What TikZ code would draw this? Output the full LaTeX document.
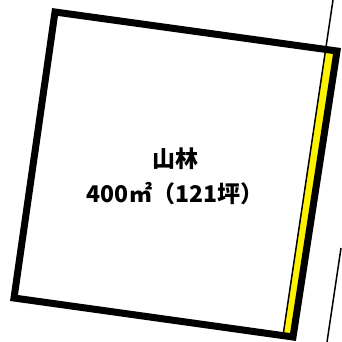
\documentclass[tikz,border=0pt]{standalone}
\usepackage{fontspec}
\newfontfamily\jpfont{Noto Sans CJK JP}
\tikzstyle{lot}=[line width=7pt, line join=miter]
\tikzstyle{edge}=[line width=1.5pt]
\tikzstyle{label}=[font=\jpfont\bfseries\fontsize{23}{35}\selectfont, align=center, inner sep=0pt]
\begin{document}
\begin{tikzpicture}[x=1pt,y=-1pt]
    \useasboundingbox (0,0) rectangle (341,342);
    % corners of the lot
    \coordinate (tl) at (55,12);
    \coordinate (tr) at (337,51);
    \coordinate (br) at (293,337);
    \coordinate (bl) at (14,298);
    % road side strip
    \coordinate (st) at (325.6,49.6);
    \coordinate (sb) at (283,335.6);
    \fill[yellow] (st) -- (tr) -- (br) -- (sb) -- cycle;
    \coordinate (ea) at (333,0);
    \coordinate (eb) at (341,248);
    \coordinate (ec) at (327,342);
    \draw[edge] (ea) -- (sb);
    \draw[edge] (eb) -- (ec);
    \draw[lot] (tl) -- (tr) -- (br) -- (bl) -- cycle;
    \node[label] (name) at (175,176) {山林\\400㎡（121坪）};
\end{tikzpicture}
\end{document}
